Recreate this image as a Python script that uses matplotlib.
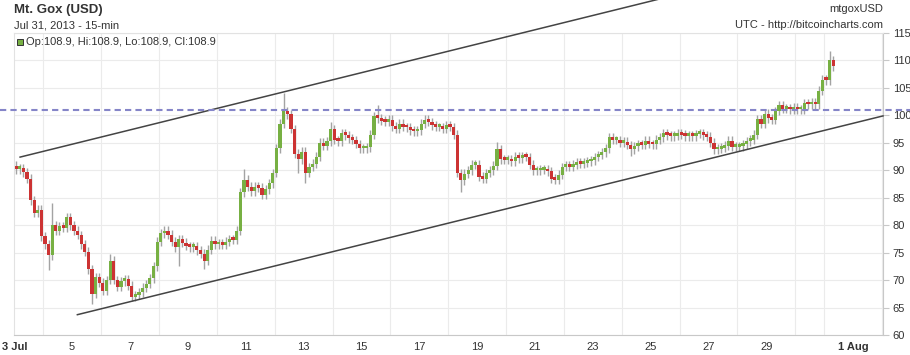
import matplotlib.pyplot as plt
import numpy as np

# Mt. Gox BTC/USD, 3-hour closes from Jul 3 00:00 UTC (8 per day)
first_open = 90.8
closes = [
    90.2, 90.4, 89.6, 88.5, 84.5, 82.2, 82.8, 78.0,      # Jul 3
    76.5, 74.5, 80.0, 79.0, 79.8, 79.5, 81.5, 80.0,      # Jul 4
    79.0, 78.2, 76.5, 75.2, 72.0, 67.5, 70.5, 69.5,      # Jul 5
    68.0, 70.0, 73.5, 70.0, 68.8, 69.8, 70.2, 69.0,      # Jul 6
    67.0, 67.3, 67.8, 68.6, 69.3, 70.3, 72.5, 77.0,      # Jul 7
    78.5, 79.0, 78.3, 77.0, 76.0, 77.5, 76.8, 76.2,      # Jul 8
    76.0, 76.2, 75.4, 74.8, 73.5, 75.5, 77.2, 76.5,      # Jul 9
    76.7, 76.4, 77.0, 77.5, 77.3, 79.0, 86.0, 88.3,      # Jul 10
    87.0, 86.2, 87.0, 86.8, 85.5, 86.5, 87.6, 89.5,      # Jul 11
    94.0, 98.5, 100.8, 100.2, 97.5, 93.0, 92.0, 93.4,    # Jul 12
    89.5, 90.6, 91.2, 92.5, 95.0, 94.5, 95.3, 97.5,      # Jul 13
    95.5, 95.3, 96.8, 96.4, 95.8, 95.5, 94.8, 94.0,      # Jul 14
    94.0, 94.2, 96.5, 99.8, 99.5, 99.0, 98.8, 99.2,      # Jul 15
    98.0, 97.5, 98.5, 97.9, 97.8, 97.3, 97.1, 97.3,      # Jul 16
    98.5, 99.2, 98.8, 98.2, 97.9, 97.9, 97.6, 98.2,      # Jul 17
    97.9, 96.5, 89.5, 88.2, 89.4, 90.0, 91.0, 91.0,      # Jul 18
    88.8, 88.4, 89.5, 90.0, 90.8, 93.8, 92.0, 91.9,      # Jul 19
    91.9, 91.6, 92.5, 92.2, 92.6, 92.4, 91.0, 90.0,      # Jul 20
    90.0, 90.1, 90.1, 89.8, 88.5, 88.3, 89.2, 90.6,      # Jul 21
    90.9, 90.6, 91.0, 91.4, 91.2, 91.4, 91.6, 91.8,      # Jul 22
    92.4, 92.8, 93.3, 94.0, 96.0, 95.5, 95.5, 95.0,      # Jul 23
    95.2, 94.6, 93.8, 94.4, 94.7, 94.6, 95.4, 94.8,      # Jul 24
    94.7, 95.6, 96.0, 96.7, 96.4, 96.2, 96.3, 96.7,      # Jul 25
    96.5, 96.2, 96.4, 96.2, 96.6, 96.8, 96.4, 96.1,      # Jul 26
    95.0, 93.8, 93.9, 94.1, 94.5, 95.4, 94.3, 94.3,      # Jul 27
    94.4, 94.7, 95.3, 95.6, 96.5, 99.3, 98.5, 100.3,     # Jul 28
    99.5, 99.2, 100.8, 101.8, 101.2, 101.3, 101.1, 101.4,  # Jul 29
    101.1, 101.1, 102.2, 102.0, 102.3, 102.0, 104.5, 106.5,  # Jul 30
    106.4, 110.0, 108.9,                                  # Jul 31
]
# wicks that stick out well past the bodies: candle index -> price
spike_highs = {10: 84.0, 26: 74.8, 63: 90.2, 74: 104.0, 87: 98.8,
               100: 101.9, 133: 95.2, 225: 111.7}
spike_lows = {9: 71.8, 21: 65.7, 45: 72.5, 52: 72.0, 78: 89.5,
              80: 87.6, 123: 86.1, 170: 92.6}

day_ticks = [0, 2, 4, 6, 8, 10, 12, 14, 16, 18, 20, 22, 24, 26, 29]
day_labels = ['3 Jul', '5', '7', '9', '11', '13', '15', '17', '19', '21',
              '23', '25', '27', '29', '1 Aug']
price_ticks = [60, 65, 70, 75, 80, 85, 90, 95, 100, 105, 110, 115]

resistance = 100.9
channel_top_days = [0.2, 23.0]
channel_top_prices = [92.4, 122.1]
channel_low_days = [2.18, 30.03]
channel_low_prices = [63.7, 99.9]

red = '#cc3333'
green = '#77b043'
wick = '#a3a3a3'
txt = '#333333'
plt.rcParams['font.family'] = ['Liberation Sans', 'DejaVu Sans']

fig = plt.figure(figsize=(9.1, 3.55), dpi=100)
ax = fig.add_axes([14.3 / 910, 20 / 355, 868.7 / 910, 302 / 355])

c = np.array(closes)
o = np.array([first_open] + closes[:-1])
t = np.arange(len(c)) * 0.125 + 0.0625
# wick overhang past the body
hi = np.maximum(o, c) + 0.8
lo = np.minimum(o, c) - 0.8
for k, v in spike_highs.items():
    hi[k] = v
for k, v in spike_lows.items():
    lo[k] = v

ax.vlines(t, lo, hi, color=wick, lw=1.0, zorder=2)
body = np.maximum(np.abs(c - o), 0.5)
cols = [green if cc >= oo else red for oo, cc in zip(o, c)]
ax.bar(t, body, bottom=np.minimum(o, c), width=0.11, color=cols, lw=0, zorder=3)

ax.plot(channel_top_days, channel_top_prices, color='#444444', lw=1.1, clip_on=False, zorder=4)
ax.plot(channel_low_days, channel_low_prices, color='#444444', lw=1.1, clip_on=False, zorder=4)
ax.plot([-0.5, 31.0], [resistance, resistance], color='#8585c8', lw=1.5,
        ls=(0, (3, 2)), clip_on=False, zorder=4)

ax.set_xlim(0, 30.03)
ax.set_ylim(60, 115)
ax.set_xticks(day_ticks)
ax.set_xticklabels(day_labels, fontsize=8, color=txt)
for lab in (ax.get_xticklabels()[0], ax.get_xticklabels()[-1]):
    lab.set_fontweight('bold')
ax.set_xticks(range(0, 31), minor=True)
ax.tick_params(axis='x', which='both', length=0, pad=5)
ax.yaxis.tick_right()
ax.set_yticks(price_ticks)
ax.set_yticklabels([str(p) for p in price_ticks], fontsize=8, color=txt)
ax.tick_params(axis='y', length=4, color='#c8c8c8', pad=3)
ax.grid(True, which='minor', axis='x', color='#ebebeb', lw=0.8)
ax.grid(True, which='major', axis='y', color='#ebebeb', lw=0.8)
ax.set_axisbelow(True)
for side in ['top', 'left']:
    ax.spines[side].set_color('#e2e2e2')
for side in ['bottom', 'right']:
    ax.spines[side].set_color('#c8c8c8')

fig.text(14 / 910, 1 - 10 / 355, 'Mt. Gox (USD)', fontsize=9.5, fontweight='bold',
         color=txt, va='center')
fig.text(14 / 910, 1 - 25 / 355, 'Jul 31, 2013 - 15-min', fontsize=8, color=txt, va='center')
fig.text(883 / 910, 1 - 9 / 355, 'mtgoxUSD', fontsize=8, color=txt, va='center', ha='right')
fig.text(883 / 910, 1 - 25 / 355, 'UTC - http://bitcoincharts.com', fontsize=8,
         color=txt, va='center', ha='right')
ax.plot([0.2], [113.3], marker='s', ms=5, mfc=green, mec='#333333', mew=0.7,
        clip_on=False, zorder=5)
fig.text(26 / 910, 1 - 42 / 355, 'Op:108.9, Hi:108.9, Lo:108.9, Cl:108.9', fontsize=8,
         color=txt, va='center')

fig.savefig('out.png', dpi=100)
